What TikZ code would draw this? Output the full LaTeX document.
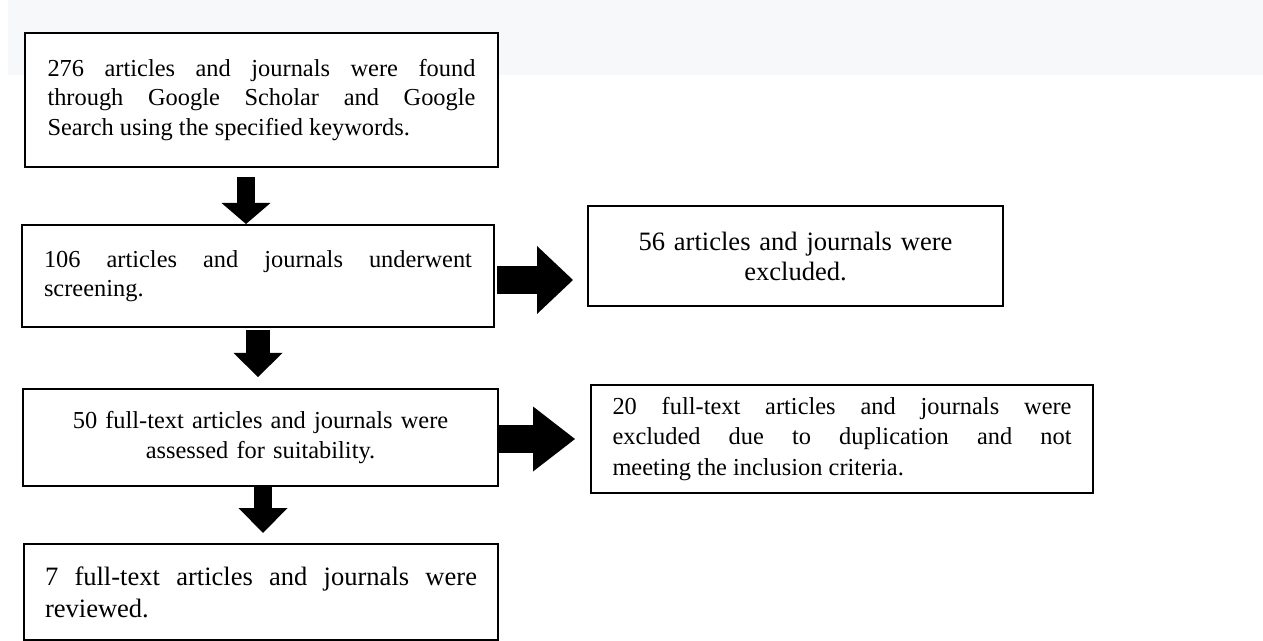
\documentclass[tikz,border=0pt]{standalone}
\usepackage{fontspec}
\setmainfont{Liberation Serif}
\usetikzlibrary{arrows.meta}

\newlength\px
\setlength\px{0.75pt}
\definecolor{bandgray}{HTML}{F7F8FA}
\newcommand\bodytext{\fontsize{18.3pt}{22pt}\selectfont}
\newcommand\roundtext{\fontsize{19.9pt}{22.5pt}\selectfont}
\tolerance=9999
\hbadness=10000
\hyphenpenalty=10000
\exhyphenpenalty=10000

\tikzset{
  flowbox/.style={draw=black, line width=1.5pt, fill=white, anchor=north west, inner ysep=0pt, align=justify},
  blockarrow/.style n args={3}{draw=black, line width=#1, -{Triangle[width=#2,length=#3,line width=0pt]}},
}

\begin{document}
\begin{tikzpicture}[x=\px,y=-\px]
\useasboundingbox (0,0) rectangle (1263,641);
\fill[bandgray] (8,0) rectangle (1263,75);

\node[flowbox, text width=428\px, inner xsep=22.5\px, minimum height=134\px, font=\bodytext] (a276) at (24,32) {276 articles and journals were found\linebreak through Google Scholar and Google\linebreak Search using the specified keywords.};
\node[flowbox, text width=428\px, inner xsep=22\px, minimum height=102\px, font=\bodytext] (a106) at (21,224) {106 articles and journals underwent\linebreak screening.};
\node[flowbox, align=center, text width=380\px, inner xsep=17.5\px, minimum height=100\px, font=\roundtext] (a56) at (587,205) {56 articles and journals were\\ excluded.};
\node[flowbox, align=center, text width=440\px, inner xsep=17.5\px, minimum height=97\px, font=\bodytext] (a50) at (22,388) {50 full-text articles and journals were\\ assessed for suitability.};
\node[flowbox, text width=459\px, inner xsep=21.5\px, minimum height=108\px, font=\fontsize{18.3pt}{23pt}\selectfont] (a20) at (590,384) {20 full-text articles and journals were\linebreak excluded due to duplication and not\linebreak meeting the inclusion criteria.};
\node[flowbox, text width=432\px, inner xsep=21\px, minimum height=96\px, font=\fontsize{19.9pt}{24pt}\selectfont] (a7) at (23,543) {7 full-text articles and journals were\linebreak reviewed.};

\draw[blockarrow={13.5pt}{36.75pt}{15.75pt}, shorten <=9\px] ([xshift=-15.5\px]a276.south) -- ([xshift=-15.5\px]a276.south |- a106.north);
\draw[blockarrow={18pt}{36.75pt}{18pt}, shorten <=2\px, shorten >=11\px] (a106.south) -- (a106.south |- a50.north);
\draw[blockarrow={13.5pt}{36.75pt}{18.75pt}, shorten >=10\px] ([xshift=2.5\px]a50.south) -- ([xshift=2.5\px]a50.south |- a7.north);
\draw[blockarrow={21pt}{51pt}{27pt}, shorten <=2\px, shorten >=14\px] ([yshift=-4\px]a106.east) -- ([yshift=-4\px]a106.east -| a56.west);
\draw[blockarrow={21pt}{48.75pt}{31.5pt}, shorten <=0\px, shorten >=15\px] ([yshift=-1.5\px]a50.east) -- ([yshift=-1.5\px]a50.east -| a20.west);

\end{tikzpicture}
\end{document}
